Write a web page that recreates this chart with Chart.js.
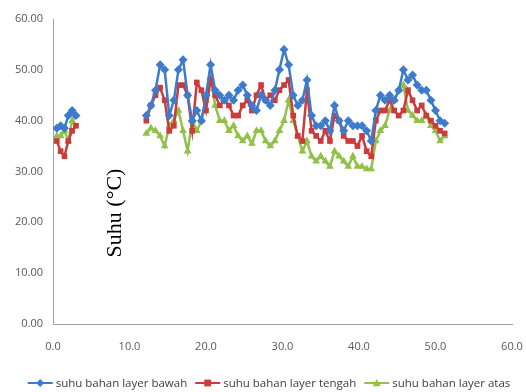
<!DOCTYPE html>
<html>
<head>
<meta charset="utf-8">
<script src="https://cdn.jsdelivr.net/npm/chart.js@4.4.0/dist/chart.umd.min.js"></script>
<style>
  html, body { margin: 0; padding: 0; background: #fff; }
  #wrap { width: 526px; height: 392px; position: relative; }
</style>
</head>
<body>
<div id="wrap"><canvas id="chart"></canvas></div>
<script>
// x positions (the gap between the two runs is a null break)
const xs = [0.5, 1.0, 1.5, 2.0, 2.5, 3.0, null,
  12.2, 12.8, 13.4, 14.0, 14.6, 15.2, 15.8, 16.4, 17.0, 17.6, 18.2, 18.8, 19.4, 20.0,
  20.6, 21.2, 21.8, 22.4, 23.0, 23.6, 24.2, 24.8, 25.4, 26.0, 26.6, 27.2, 27.8, 28.4,
  29.0, 29.6, 30.2, 30.8, 31.4, 32.0, 32.6, 33.2, 33.8, 34.4, 35.0, 35.6, 36.2, 36.8,
  37.4, 38.0, 38.6, 39.2, 39.8, 40.4, 41.0, 41.6, 42.2, 42.8, 43.4, 44.0, 44.6, 45.2,
  45.8, 46.4, 47.0, 47.6, 48.2, 48.8, 49.4, 50.0, 50.6, 51.2];

const bawah = [38.5, 39, 38.5, 41, 42, 41, null,
  41, 43, 46, 51, 50, 41, 44, 50, 52, 45, 40, 42, 40, 45,
  51, 46, 45, 44, 45, 44, 46, 47, 45, 43, 42, 45, 44, 43,
  46, 50, 54, 51, 45, 43, 44, 48, 41, 39, 39, 40, 38, 43,
  40, 38, 40, 39, 39, 39, 38, 36, 42, 45, 44, 45, 44, 46,
  50, 48, 49, 47, 46, 46, 44, 42, 40, 39.5];

const tengah = [36, 34, 33, 36, 38, 39, null,
  40, 43, 45, 46.5, 44, 38, 39, 47, 47, 45, 38, 47.5, 46, 42,
  48, 45, 43, 44, 43, 41, 41, 43, 44, 42, 45, 47, 44, 45,
  44, 46, 47, 48, 41, 37, 36, 46, 38, 37, 36, 38, 36, 41,
  40, 37, 36, 36, 35, 37, 34, 33, 40, 42, 42, 44, 42, 41,
  42, 46, 44, 42, 43, 41, 40, 39, 38, 37.5];

const atas = [37, 37, 38, 36, 40, 41, null,
  37.5, 38.5, 38, 37, 35, 39, 40, 42, 38, 34, 40, 38, 40, 44,
  48.5, 43, 40, 40, 38, 39, 37, 36, 37, 35.5, 38, 38, 36, 35,
  36, 38, 40, 44, 40, 37, 34, 36, 33, 32, 33, 32, 31, 34,
  33, 32, 31, 33, 31, 31, 30.5, 30.5, 36, 38, 39, 42, 44, 46,
  47, 42, 41, 40, 40, 41, 39, 38, 36, 37];

const seriesNames = ["suhu bahan layer bawah", "suhu bahan layer tengah", "suhu bahan layer atas"];
const seriesColors = ["#3d7ccc", "#cc3b3b", "#92c14b"];
const seriesMarkers = ["rectRot", "rect", "triangle"];
const yTitle = "Suhu (°C)";

function pts(ys) {
  return xs.map((x, i) => (x === null ? { x: null, y: null } : { x: x, y: ys[i] }));
}

function drawMarker(g, marker, cx, cy, r) {
  g.beginPath();
  if (marker === "rectRot") { g.moveTo(cx, cy - r); g.lineTo(cx + r, cy); g.lineTo(cx, cy + r); g.lineTo(cx - r, cy); }
  else if (marker === "rect") { g.rect(cx - r * 0.85, cy - r * 0.85, r * 1.7, r * 1.7); }
  else { g.moveTo(cx, cy - r); g.lineTo(cx + r, cy + r * 0.8); g.lineTo(cx - r, cy + r * 0.8); }
  g.closePath(); g.fill();
}

const yTitlePlugin = {
  id: "yTitle",
  afterDatasetsDraw(chart) {
    const ctx = chart.ctx;
    const a = chart.chartArea;
    ctx.save();
    ctx.translate(a.left + 62, a.top + 194);
    ctx.rotate(-Math.PI / 2);
    ctx.font = '22px "Liberation Serif", "DejaVu Serif", serif';
    ctx.fillStyle = "#000";
    ctx.textAlign = "center";
    ctx.textBaseline = "middle";
    ctx.fillText(yTitle, 0, 0);
    ctx.restore();
  }
};

// legend drawn under the axis: line sample + marker + name, centred row
const legendPlugin = {
  id: "lineLegend",
  afterDraw(chart) {
    const ctx = chart.ctx;
    const iconW = 25, gapIcon = 3, gapItem = 8;
    ctx.save();
    ctx.font = '11.5px "Open Sans", sans-serif';
    const widths = seriesNames.map((t) => ctx.measureText(t).width);
    const total = widths.reduce((s, w) => s + w, 0) + seriesNames.length * (iconW + gapIcon) + (seriesNames.length - 1) * gapItem;
    let x = (chart.width - total) / 2 + 6;
    const y = 383;
    seriesNames.forEach((name, i) => {
      ctx.strokeStyle = seriesColors[i];
      ctx.fillStyle = seriesColors[i];
      ctx.lineWidth = 2;
      ctx.beginPath(); ctx.moveTo(x, y); ctx.lineTo(x + iconW, y); ctx.stroke();
      drawMarker(ctx, seriesMarkers[i], x + iconW / 2, y, 4);
      x += iconW + gapIcon;
      ctx.fillStyle = "#404040";
      ctx.textAlign = "left";
      ctx.textBaseline = "middle";
      ctx.fillText(name, x, y + 1);
      x += widths[i] + gapItem;
    });
    ctx.restore();
  }
};

const datasets = [bawah, tengah, atas].map((ys, i) => ({
  label: seriesNames[i],
  data: pts(ys),
  showLine: true,
  spanGaps: false,
  borderColor: seriesColors[i],
  backgroundColor: seriesColors[i],
  borderWidth: 2.5,
  pointStyle: seriesMarkers[i],
  pointRadius: i === 1 ? 4 : 4.5,
  pointBorderWidth: 0,
  tension: 0
}));

new Chart(document.getElementById("chart"), {
  type: "scatter",
  data: { datasets: datasets },
  options: {
    responsive: true,
    maintainAspectRatio: false,
    animation: false,
    layout: { padding: { left: 0, right: 14, top: 19, bottom: 36 } },
    scales: {
      x: {
        type: "linear",
        min: 0, max: 60,
        ticks: {
          stepSize: 10,
          color: "#595959",
          font: { family: "Open Sans", size: 11 },
          padding: 16,
          callback: (v) => v.toFixed(1)
        },
        grid: { display: false, drawTicks: false },
        border: { color: "#a0a0a0", width: 1 },
        afterFit: (s) => { s.height = 32; s.paddingRight = 0; s.paddingLeft = 0; }
      },
      y: {
        min: 0, max: 60,
        ticks: {
          stepSize: 10,
          color: "#595959",
          font: { family: "Open Sans", size: 11 },
          padding: 10,
          callback: (v) => v.toFixed(2)
        },
        grid: { display: false, drawTicks: false },
        border: { color: "#a0a0a0", width: 1 },
        afterFit: (s) => { s.width = 53; s.paddingTop = 0; s.paddingBottom = 0; }
      }
    },
    plugins: {
      legend: { display: false },
      tooltip: { enabled: false }
    }
  },
  plugins: [yTitlePlugin, legendPlugin]
});
</script>
</body>
</html>
